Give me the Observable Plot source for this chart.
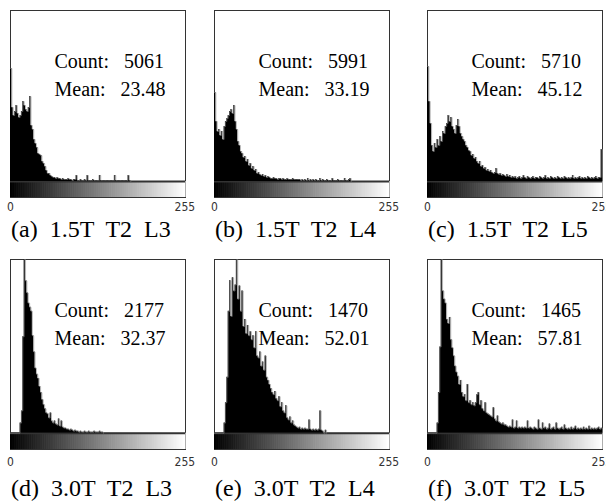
<!DOCTYPE html>
<html><head><meta charset="utf-8">
<script src="https://cdn.jsdelivr.net/npm/d3@7"></script>
<script src="https://cdn.jsdelivr.net/npm/@observablehq/plot@0.6"></script>
<style>
html,body{margin:0;padding:0;background:#fff;}
body{width:606px;height:501px;overflow:hidden;position:relative;}
.panel{position:absolute;width:197px;}
.panel svg{max-width:none !important;}
.cap{position:absolute;font-family:"Liberation Serif","Times New Roman",serif;font-size:24px;line-height:24px;white-space:pre;color:#000;}
</style></head><body>
<script>
// ---- data ----
const captions = ["(a)  1.5T  T2  L3", "(b)  1.5T  T2  L4", "(c)  1.5T  T2  L5",
                  "(d)  3.0T  T2  L3", "(e)  3.0T  T2  L4", "(f)  3.0T  T2  L5"];
const counts = ["5061", "5991", "5710", "2177", "1470", "1465"];
const means = ["23.48", "33.19", "45.12", "32.37", "52.01", "57.81"];
const tickLabels = [0, 255];
const binWidth = 2; // grey levels per bin
// bar heights (pixels of a 171-px-tall panel), bins of 2 grey levels starting at 0
const histA = [113,74,66,70,76,68,64,66,70,80,76,72,70,74,85,56,52,42,38,34,28,27,26,20,18,15,11,8,8,6,5,4,
  4,3,4,3,3,2,3,2,2,2,3,2,2,1,2,2,
  6,1,1,2,1,1,2,1,6,1,1,1,2,1,1,1,
  1,6,1,1,1,1,1,1,1,1,1,1,6,1,1,1,
  1,1,1,1,1,1,6,1];
const histB = [89,60,50,52,46,50,42,55,60,63,66,70,72,68,76,60,52,40,36,30,28,24,25,20,22,16,18,13,15,11,12,8,
  9,7,6,7,5,6,4,5,4,3,3,4,3,3,2,3,
  3,2,3,2,2,3,2,2,2,3,2,2,2,2,2,1,
  2,1,2,1,3,1,2,1,2,1,2,1,1,3,1,2,
  1,1,2,1,1,1,3,1,1,1,2,1,1,1,1,3,
  1,1,2,3];
const histC = [115,80,58,36,30,38,34,42,36,45,40,50,48,55,58,66,60,64,55,52,48,56,62,55,48,45,42,40,36,34,31,30,
  26,27,23,24,20,18,20,15,16,13,14,11,12,10,11,9,8,9,13,8,7,8,6,7,6,5,7,5,6,4,5,4,
  5,3,4,5,3,4,6,4,3,5,4,3,4,5,3,4,4,3,5,4,3,4,6,3,4,3,5,4,3,4,3,5,
  4,3,4,3,5,4,3,4,3,4,6,3,4,3,4,5,3,4,3,4,3,5,4,3,4,3,4,5,3,4,4,32];
const histD = [0,0,0,0,0,0,0,10,22,95,171,150,138,128,124,120,
  96,80,64,58,54,46,40,33,28,24,20,19,15,20,12,10,
  12,9,8,14,7,12,6,5,5,4,4,3,4,3,2,3,
  2,2,1,2,1,1,2,1,1,2,1,1,1,2,1,1,1,2,1,1];
const histE = [0,0,0,0,0,0,0,10,30,55,120,150,115,153,140,146,
  171,132,145,120,140,105,112,98,106,96,100,92,96,84,100,76,
  74,80,66,70,62,76,55,52,48,44,40,38,41,34,32,36,
  26,30,22,20,27,15,13,16,10,12,8,7,6,5,6,4,
  5,4,5,4,4,13,4,3,4,3,4,3,4,22,3,2,0,3];
const histF = [0,0,0,0,0,0,0,10,40,85,171,140,132,128,112,108,
  114,92,84,76,66,60,56,48,52,40,36,38,32,48,30,32,
  28,30,27,30,38,40,28,32,24,22,30,20,19,18,17,16,
  25,14,12,17,11,10,9,10,8,8,7,6,7,6,13,5,
  6,12,5,6,5,6,5,6,5,12,5,6,5,4,6,5,
  4,13,5,4,10,5,6,4,5,9,4,5,6,4,10,5,
  4,5,6,4,8,5,4,5,4,6,4,5,7,4,5,4,
  5,4,6,4,5,4,7,4,5,4,5,4,5,6,4,5];
const hists = [histA, histB, histC, histD, histE, histF];
const greyLevels = d3.range(256);

// ---- layout ----
const boxLefts = [10, 214, 427];
const rowTops = [0, 249];
const plotHeights = [187, 190];
const tickPads = [5, 8];
const capTops = [217, 476];
const serif = "Liberation Serif, Times New Roman, serif";

function histogram(hist, count, mean, row) {
  const pts = hist.map((v, i) => ({level: i * binWidth, n: v}));
  pts.push({level: hist.length * binWidth, n: 0});
  return Plot.plot({
    width: 197,
    height: 10 + plotHeights[row] + 24,
    marginLeft: 10, marginRight: 12, marginTop: 10, marginBottom: 24,
    style: {fontFamily: "'Liberation Sans Narrow','DejaVu Sans Condensed','Liberation Sans',sans-serif",
            fontSize: "12px", color: "#333", background: "transparent", overflow: "visible", maxWidth: "none"},
    x: {domain: [0, 256], ticks: tickLabels, tickSize: 0, tickPadding: tickPads[row], tickFormat: d => String(d), label: null},
    y: {domain: [-16, 171], axis: null},
    color: {type: "linear", domain: [0, 255], range: ["#000", "#fff"]},
    marks: [
      Plot.frame({stroke: "#333"}),
      Plot.rect(greyLevels, {x1: d => d, x2: d => d + 1, y1: -16, y2: 0, fill: d => d, insetRight: -0.6}),
      Plot.ruleY([0], {stroke: "#333", strokeWidth: 2}),
      Plot.areaY(pts, {x: "level", y: "n", curve: "step-after", fill: "#000"}),
      Plot.lineY(pts, {x: "level", y: "n", curve: "step-after", stroke: "#888", strokeWidth: 0.6}),
      Plot.text(["Count:\u00a0\u00a0 " + count], {text: d => d, frameAnchor: "top-left", dx: 44, dy: 43.6,
        textAnchor: "start", fontSize: 20, fontFamily: serif, fill: "#000"}),
      Plot.text(["Mean:\u00a0\u00a0 " + mean], {text: d => d, frameAnchor: "top-left", dx: 44, dy: 71,
        textAnchor: "start", fontSize: 20, fontFamily: serif, fill: "#000"})
    ]
  });
}

hists.forEach((h, k) => {
  const row = Math.floor(k / 3), col = k % 3;
  const wrap = document.createElement("div");
  wrap.className = "panel";
  wrap.style.left = (boxLefts[col] - 10) + "px";
  wrap.style.top = rowTops[row] + "px";
  wrap.appendChild(histogram(h, counts[k], means[k], row));
  document.body.appendChild(wrap);
  const cap = document.createElement("div");
  cap.className = "cap";
  cap.style.left = (boxLefts[col] + 1) + "px";
  cap.style.top = capTops[row] + "px";
  cap.textContent = captions[k];
  document.body.appendChild(cap);
});
</script>
</body></html>
